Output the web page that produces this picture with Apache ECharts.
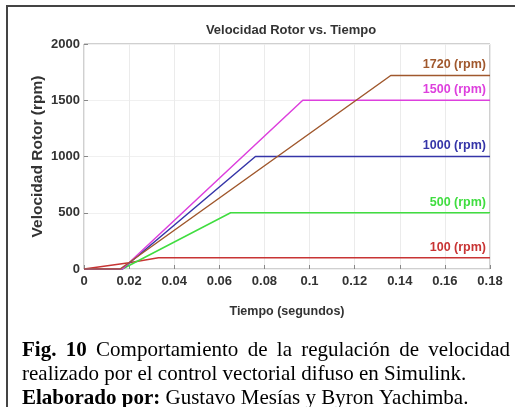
<!DOCTYPE html>
<html><head><meta charset="utf-8">
<script src="https://cdn.jsdelivr.net/npm/echarts@6/dist/echarts.min.js"></script>
<style>html,body{margin:0;padding:0;background:#fff}#c{width:515px;height:407px}</style>
</head><body><div id="c"></div>
<script>
const chartTitle = 'Velocidad Rotor vs. Tiempo';
const xName = 'Tiempo (segundos)';
const yName = 'Velocidad Rotor (rpm)';
const seriesNames = ['100 (rpm)', '500 (rpm)', '1000 (rpm)', '1500 (rpm)', '1720 (rpm)'];
const seriesColors = ['#c83434', '#40dd40', '#3535a8', '#dd40dd', '#a0582d'];
const t100 = [0, 0.02, 0.033, 0.18];
const v100 = [0, 55, 100, 100];
const t500 = [0, 0.017, 0.065, 0.18];
const v500 = [0, 0, 500, 500];
const t1000 = [0, 0.017, 0.076, 0.18];
const v1000 = [0, 0, 1000, 1000];
const t1500 = [0, 0.017, 0.097, 0.18];
const v1500 = [0, 0, 1500, 1500];
const t1720 = [0, 0.016, 0.136, 0.18];
const v1720 = [0, 0, 1720, 1720];
const captionLine1Bold = ['Fig.', '10'];
const captionLine1 = 'Comportamiento de la regulación de velocidad';
const captionLine2 = 'realizado por el control vectorial difuso en Simulink.';
const captionLine3Bold = 'Elaborado por:';
const captionLine3 = 'Gustavo Mesías y Byron Yachimba.';

const FONT = "'Liberation Sans',Arial,sans-serif";
const SERIF = "'Liberation Serif','Times New Roman',serif";
const CAP = 21;
const ts = [t100, t500, t1000, t1500, t1720];
const vs = [v100, v500, v1000, v1500, v1720];

// justify caption line 1 between x=22 and x=510
const ctx = document.createElement('canvas').getContext('2d');
const words1 = captionLine1Bold.map(w => ({w, b: true})).concat(captionLine1.split(' ').map(w => ({w, b: false})));
let total = 0;
words1.forEach(o => { ctx.font = (o.b ? 'bold ' : '') + CAP + 'px ' + SERIF; o.width = ctx.measureText(o.w).width; total += o.width; });
const gap = (510 - 22 - total) / (words1.length - 1);
let xc = 22;
const line1Graphics = words1.map(o => {
  const g = {type: 'text', x: xc, y: 340, style: {text: o.w, font: (o.b ? 'bold ' : '') + CAP + 'px ' + SERIF, fill: '#000'}};
  xc += o.width + gap;
  return g;
});

const chart = echarts.init(document.getElementById('c'), null, {renderer: 'canvas'});
chart.setOption({
  animation: false,
  backgroundColor: '#fff',
  title: {
    text: chartTitle, left: 286, top: 19, textAlign: 'center',
    textStyle: {fontFamily: FONT, fontSize: 13, fontWeight: 'bold', color: '#333'}
  },
  grid: {left: 84, right: 25, top: 44, bottom: 138, show: true, borderColor: '#a0a0a0', borderWidth: 1, backgroundColor: 'transparent'},
  xAxis: {
    type: 'value', min: 0, max: 0.18, interval: 0.02,
    name: xName, nameLocation: 'middle', nameGap: 36, nameMoveOverlap: false,
    nameTextStyle: {fontFamily: FONT, fontSize: 12.5, fontWeight: 'bold', color: '#333'},
    axisLine: {show: false},
    axisTick: {show: true, inside: true, length: 4, lineStyle: {color: '#888'}},
    axisLabel: {fontFamily: FONT, fontSize: 13, fontWeight: 'bold', color: '#333', margin: 6,
      formatter: v => String(Math.round(v * 100) / 100)},
    splitLine: {show: true, lineStyle: {color: '#ebebeb', width: 1}}
  },
  yAxis: {
    type: 'value', min: 0, max: 2000, interval: 500,
    name: yName, nameLocation: 'middle', nameGap: 38, nameMoveOverlap: false,
    nameTextStyle: {fontFamily: FONT, fontSize: 15.5, fontWeight: 'bold', color: '#333'},
    axisLine: {show: false},
    axisTick: {show: true, inside: true, length: 4, lineStyle: {color: '#888'}},
    axisLabel: {fontFamily: FONT, fontSize: 13, fontWeight: 'bold', color: '#333', margin: 4,
      formatter: v => String(v)},
    splitLine: {show: true, lineStyle: {color: '#f0f0f0', width: 1}}
  },
  series: seriesNames.map((n, i) => ({
    name: n, type: 'line', showSymbol: false, symbol: 'none',
    data: ts[i].map((t, j) => [t, vs[i][j]]),
    lineStyle: {color: seriesColors[i], width: 1.5},
    itemStyle: {color: seriesColors[i]},
    endLabel: {show: true, formatter: n, align: 'right', verticalAlign: 'bottom', distance: 0, offset: [-4, -4],
      fontFamily: FONT, fontSize: 12.5, fontWeight: 'bold', color: seriesColors[i]}
  })),
  graphic: [
    {type: 'rect', left: 6, top: 5, shape: {width: 515, height: 2}, style: {fill: '#444'}},
    {type: 'rect', left: 6, top: 5, shape: {width: 2, height: 410}, style: {fill: '#444'}},
    ...line1Graphics,
    {type: 'text', x: 22, y: 364, style: {text: captionLine2, font: CAP + 'px ' + SERIF, fill: '#000'}},
    {type: 'text', x: 22, y: 388, style: {
      text: '{b|' + captionLine3Bold + '} ' + captionLine3,
      font: CAP + 'px ' + SERIF, fill: '#000',
      rich: {b: {fontFamily: SERIF, fontSize: CAP, fontWeight: 'bold', fill: '#000'}}
    }}
  ]
});
</script></body></html>
